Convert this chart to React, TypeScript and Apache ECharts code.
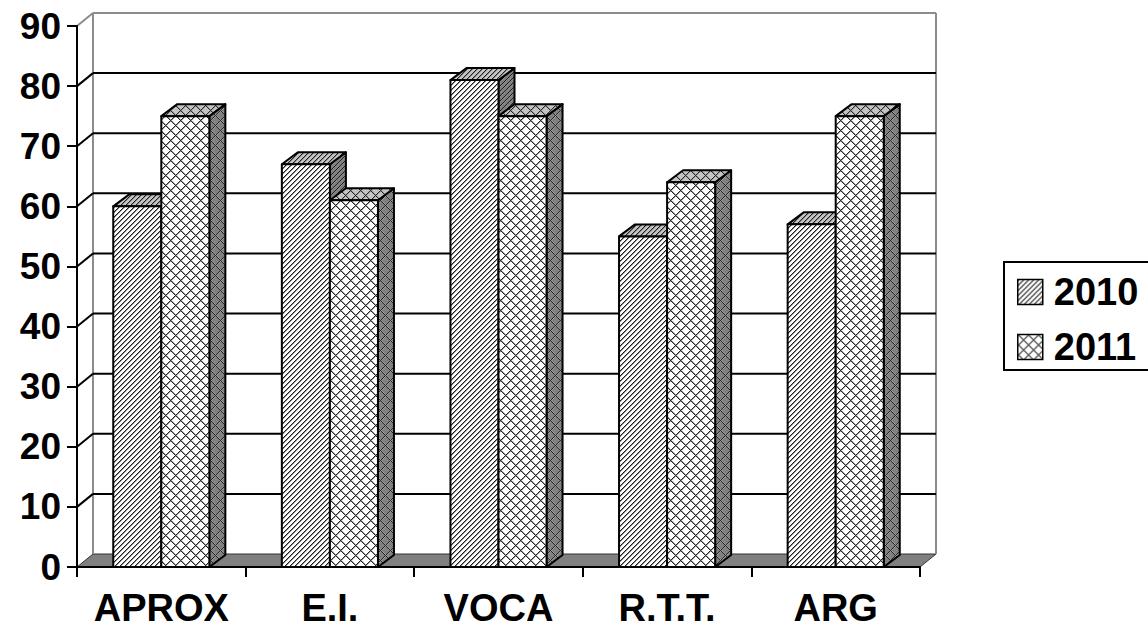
import React, { useEffect, useRef } from "react";
import * as echarts from "echarts";

const categories = ["APROX", "E.I.", "VOCA", "R.T.T.", "ARG"];
const seriesNames = ["2010", "2011"];
const values2010 = [60, 67, 81, 55, 57];
const values2011 = [75, 61, 75, 64, 75];
const yTicks = [0, 10, 20, 30, 40, 50, 60, 70, 80, 90];

const FONT = '"Liberation Sans", Arial, sans-serif';
const WALL_DX = 16;
const WALL_DY = 13;
const BAR_DX = 16;
const BAR_DY = 12;

function makePattern(kind: "diag" | "cross", bg: string) {
  const n = kind === "diag" ? 5 : 10;
  const c = document.createElement("canvas");
  c.width = n;
  c.height = n;
  const ctx = c.getContext("2d")!;
  ctx.fillStyle = bg;
  ctx.fillRect(0, 0, n, n);
  for (let x = 0; x < n; x++) {
    for (let y = 0; y < n; y++) {
      let col: string | null = null;
      if (kind === "diag") {
        const k = (x + y) % n;
        if (k === 0) col = "#1e1e1e";
        else if (k === 1) col = "#8a8a8a";
      } else {
        const a = (x + y) % n;
        const b = (((x - y) % n) + n) % n;
        if (a === 0 || b === 0) col = "#262626";
        else if (a === 1 || b === 1) col = "#9a9a9a";
      }
      if (col) {
        ctx.fillStyle = col;
        ctx.fillRect(x, y, 1, 1);
      }
    }
  }
  return { image: c, repeat: "repeat", imageWidth: n, imageHeight: n } as any;
}

export default function App() {
  const ref = useRef<HTMLDivElement>(null);

  useEffect(() => {
    document.body.style.margin = "0";
    if (!ref.current) return;
    const chart = echarts.init(ref.current, null, { renderer: "svg" });

    const pats = {
      diag: {
        front: makePattern("diag", "#ffffff"),
        top: makePattern("diag", "#c4c4c4"),
        side: makePattern("diag", "#808080"),
      },
      cross: {
        front: makePattern("cross", "#ffffff"),
        top: makePattern("cross", "#c4c4c4"),
        side: makePattern("cross", "#808080"),
      },
    };
    const legendPats = [makePattern("diag", "#ffffff"), makePattern("cross", "#ffffff")];

    const frameRender = (params: any, api: any) => {
      const v = api.value(1);
      const cs = params.coordSys;
      const x0 = cs.x;
      const x1 = cs.x + cs.width;
      const y = api.coord([0, v])[1];
      const children: any[] = [];
      if (v === 0) {
        const yTop = api.coord([0, yTicks[yTicks.length - 1]])[1];
        children.push({
          type: "polygon",
          shape: {
            points: [
              [x0, y],
              [x1, y],
              [x1 + WALL_DX, y - WALL_DY],
              [x0 + WALL_DX, y - WALL_DY],
            ],
          },
          style: { fill: "#808080", stroke: "#333", lineWidth: 1 },
        });
        children.push({
          type: "line",
          shape: { x1: x0 + WALL_DX, y1: y - WALL_DY, x2: x0 + WALL_DX, y2: yTop - WALL_DY },
          style: { stroke: "#8c8c8c", lineWidth: 2 },
        });
        children.push({
          type: "line",
          shape: { x1: x1 + WALL_DX, y1: y - WALL_DY, x2: x1 + WALL_DX, y2: yTop - WALL_DY },
          style: { stroke: "#8c8c8c", lineWidth: 2 },
        });
      } else {
        const isTop = v === yTicks[yTicks.length - 1];
        const col = isTop ? "#8c8c8c" : "#000000";
        children.push({
          type: "line",
          shape: { x1: x0, y1: y, x2: x0 + WALL_DX, y2: y - WALL_DY },
          style: { stroke: col, lineWidth: 2 },
        });
        children.push({
          type: "line",
          shape: { x1: x0 + WALL_DX, y1: y - WALL_DY, x2: x1 + WALL_DX, y2: y - WALL_DY },
          style: { stroke: col, lineWidth: 2 },
        });
      }
      return { type: "group", children };
    };

    const makeBarRender = (sIdx: number) => (params: any, api: any) => {
      const idx = api.value(0);
      const val = api.value(1);
      const base = api.coord([idx, 0]);
      const top = api.coord([idx, val]);
      const w = api.size([1, 0])[0] * 0.285;
      const xL = sIdx === 0 ? base[0] - w : base[0];
      const xR = xL + w;
      const yT = top[1];
      const yB = base[1];
      const p = sIdx === 0 ? pats.diag : pats.cross;
      const stroke = { stroke: "#000", lineWidth: 2, lineJoin: "round" };
      return {
        type: "group",
        children: [
          {
            type: "polygon",
            shape: {
              points: [
                [xR, yT],
                [xR + BAR_DX, yT - BAR_DY],
                [xR + BAR_DX, yB - BAR_DY],
                [xR, yB],
              ],
            },
            style: { fill: p.side, ...stroke },
          },
          {
            type: "polygon",
            shape: {
              points: [
                [xL, yT],
                [xL + BAR_DX, yT - BAR_DY],
                [xR + BAR_DX, yT - BAR_DY],
                [xR, yT],
              ],
            },
            style: { fill: p.top, ...stroke },
          },
          {
            type: "polygon",
            shape: {
              points: [
                [xL, yT],
                [xR, yT],
                [xR, yB],
                [xL, yB],
              ],
            },
            style: { fill: p.front, ...stroke },
          },
        ],
      };
    };

    const option: any = {
      animation: false,
      backgroundColor: "#ffffff",
      grid: { left: 77, top: 26, width: 843, height: 541, containLabel: false },
      graphic: [
        {
          type: "rect",
          z: 0,
          silent: true,
          shape: { x: 1004, y: 262, width: 200, height: 108 },
          style: { fill: "#ffffff", stroke: "#000000", lineWidth: 2 },
        },
      ],
      legend: {
        orient: "vertical",
        left: 1003,
        top: 261,
        padding: [11, 10, 5, 14],
        itemGap: 15,
        itemWidth: 25,
        itemHeight: 25,
        borderWidth: 0,
        backgroundColor: "transparent",
        z: 5,
        textStyle: {
          fontSize: 38,
          fontWeight: "bold",
          fontFamily: FONT,
          color: "#000",
          lineHeight: 40,
          padding: [0, 0, 0, 6],
        },
        data: seriesNames.map((n, i) => ({
          name: n,
          icon: "rect",
          itemStyle: { color: legendPats[i], borderColor: "#000", borderWidth: 1.5 },
        })),
      },
      xAxis: {
        type: "category",
        data: categories,
        boundaryGap: true,
        z: 5,
        axisLine: { lineStyle: { color: "#000", width: 2 } },
        axisTick: { show: true, length: 10, interval: 0, lineStyle: { color: "#000", width: 2 } },
        axisLabel: {
          interval: 0,
          margin: 22,
          fontSize: 38,
          fontWeight: "bold",
          fontFamily: FONT,
          color: "#000",
        },
        splitLine: { show: false },
      },
      yAxis: {
        type: "value",
        min: 0,
        max: 90,
        interval: 10,
        z: 5,
        axisLine: { show: true, lineStyle: { color: "#000", width: 2 } },
        axisTick: { show: true, length: 10, lineStyle: { color: "#000", width: 2 } },
        axisLabel: {
          margin: 16,
          fontSize: 37,
          fontWeight: "bold",
          fontFamily: FONT,
          color: "#000",
        },
        splitLine: { show: false },
      },
      series: [
        {
          name: "frame",
          type: "custom",
          z: 1,
          clip: false,
          silent: true,
          renderItem: frameRender,
          encode: { x: 0, y: 1 },
          data: yTicks.map((t) => [0, t]),
        },
        {
          name: seriesNames[0],
          type: "custom",
          z: 2,
          clip: false,
          itemStyle: { color: legendPats[0] },
          renderItem: makeBarRender(0),
          encode: { x: 0, y: 1 },
          data: values2010.map((v, i) => [i, v]),
        },
        {
          name: seriesNames[1],
          type: "custom",
          z: 2,
          clip: false,
          itemStyle: { color: legendPats[1] },
          renderItem: makeBarRender(1),
          encode: { x: 0, y: 1 },
          data: values2011.map((v, i) => [i, v]),
        },
      ],
    };

    chart.setOption(option);
    return () => {
      chart.dispose();
    };
  }, []);

  return <div ref={ref} style={{ width: 1148, height: 631, overflow: "hidden" }} />;
}
